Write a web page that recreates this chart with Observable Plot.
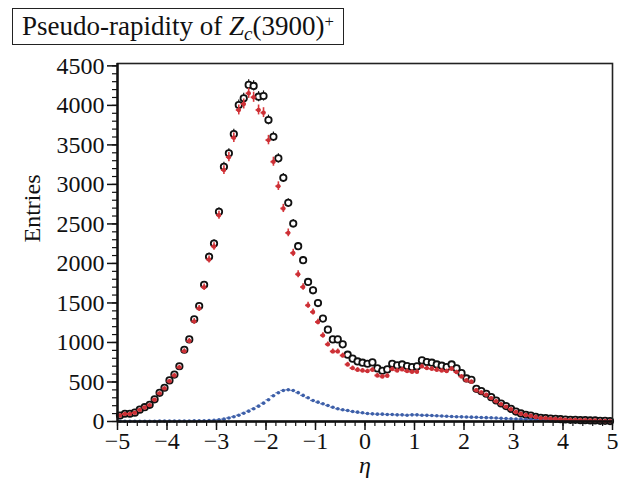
<!DOCTYPE html>
<html>
<head>
<meta charset="utf-8">
<script src="https://cdn.jsdelivr.net/npm/d3@7"></script>
<script src="https://cdn.jsdelivr.net/npm/@observablehq/plot@0.6"></script>
<style>
  html, body { margin: 0; padding: 0; background: #fff; }
  #wrap { position: relative; width: 623px; height: 484px; font-family: "Liberation Serif", "DejaVu Serif", serif; }
  #title { position: absolute; left: 12px; top: 8px; height: 35px; padding: 0 9px; border: 1.5px solid #222;
           font-size: 27px; line-height: 35px; color: #111; white-space: nowrap; background: #fff; z-index: 2; }
  #title sub { font-size: 0.7em; vertical-align: -0.25em; line-height: 0; }
  #title sup { font-size: 0.62em; vertical-align: 0.5em; line-height: 0; }
</style>
</head>
<body>
<div id="wrap">
  <div id="title">Pseudo-rapidity of <i>Z</i><sub><i>c</i></sub>(3900)<sup>+</sup></div>
  <div id="chart"></div>
</div>
<script>
// bin centres: -4.95 ... 4.95 (width 0.1)
const etaCenters = d3.range(100).map(i => -4.95 + i * 0.1);

const blackValues = [
  76, 98, 98, 112, 150, 181, 211, 281, 363, 427,
  520, 594, 699, 908, 1039, 1293, 1460, 1730, 2085, 2252,
  2653, 3223, 3393, 3637, 4005, 4090, 4259, 4246, 4110, 4119,
  3815, 3603, 3330, 3084, 2767, 2505, 2218, 2041, 1766, 1660,
  1499, 1302, 1162, 1039, 1039, 976, 845, 795, 760, 744,
  731, 748, 672, 642, 659, 731, 710, 722, 701, 688,
  697, 773, 752, 744, 722, 706, 688, 722, 672, 612,
  545, 528, 414, 384, 351, 308, 266, 228, 195, 161,
  125, 102, 85, 75, 58, 47, 43, 38, 34, 30,
  25, 21, 21, 17, 17, 13, 13, 8, 8, 6
];

const redValues = [
  75, 96, 96, 110, 147, 178, 207, 276, 356, 419,
  510, 582, 685, 890, 1018, 1267, 1431, 1700, 2050, 2215,
  2610, 3181, 3345, 3590, 3942, 4018, 4153, 4103, 3942, 3908,
  3561, 3287, 2978, 2696, 2387, 2133, 1863, 1702, 1470, 1386,
  1259, 1090, 976, 887, 887, 836, 722, 676, 655, 646,
  638, 655, 583, 570, 579, 663, 646, 659, 638, 630,
  630, 697, 676, 668, 655, 646, 638, 668, 625, 570,
  520, 503, 395, 368, 338, 296, 256, 220, 188, 155,
  120, 98, 82, 72, 56, 45, 41, 36, 32, 28,
  24, 20, 20, 16, 16, 12, 12, 8, 7, 5
];

const blueValues = [
  3, 3, 3, 3, 4, 4, 4, 4, 5, 5,
  5, 5, 6, 6, 7, 8, 9, 10, 12, 15,
  22, 30, 45, 60, 80, 105, 131, 161, 194, 232,
  275, 326, 364, 393, 402, 393, 365, 330, 300, 266,
  245, 224, 203, 181, 161, 148, 140, 127, 118, 110,
  101, 97, 93, 93, 89, 89, 84, 84, 80, 84,
  84, 80, 78, 76, 72, 70, 66, 63, 61, 59,
  57, 55, 53, 51, 49, 47, 44, 40, 37, 34,
  32, 30, 27, 25, 24, 23, 22, 21, 21, 19,
  18, 17, 16, 15, 14, 13, 12, 10, 8, 6
];

const xMajorTicks = d3.range(-5, 6, 1);
const xMinorTicks = d3.range(0, 51).map(i => -5 + i * 0.2);
const yMajorTicks = d3.range(0, 4501, 500);
const yMinorTicks = d3.range(0, 4501, 100);

const mk = vals => etaCenters.map((eta, i) => ({eta, v: vals[i]}));
const black = mk(blackValues);
const red = mk(redValues);
const blue = mk(blueValues);

const halfBin = 0.05;
const vErr = (data, color, w) => Plot.ruleX(data, {x: "eta", y1: d => Math.max(0, d.v - Math.sqrt(d.v)), y2: d => d.v + Math.sqrt(d.v), stroke: color, strokeWidth: w});
const hErr = (data, color, w) => Plot.ruleY(data, {y: "v", x1: d => d.eta - halfBin, x2: d => d.eta + halfBin, stroke: color, strokeWidth: w});

const chart = Plot.plot({
  width: 623,
  height: 484,
  marginLeft: 117,
  marginRight: 11,
  marginTop: 63,
  marginBottom: 63,
  style: {fontFamily: "Liberation Serif, serif", fontSize: "24px", color: "#111", background: "transparent"},
  x: {domain: [-5, 5], axis: null},
  y: {domain: [0, 4530], axis: null},
  marks: [
    // black series (open circles, white interior)
    vErr(black, "#111", 1.2),
    Plot.dot(black, {x: "eta", y: "v", r: 3.2, fill: "white", stroke: "#111", strokeWidth: 1.8}),
    // blue series
    hErr(blue, "#6580c0", 1.2),
    Plot.dot(blue, {x: "eta", y: "v", r: 1.8, fill: "#3d5fa8", stroke: "none"}),
    // red series (crosses)
    vErr(red, "#d8373b", 1.6),
    hErr(red, "#d8373b", 1.8),
    Plot.dot(red, {x: "eta", y: "v", r: 2.2, fill: "#cc3036", stroke: "none"}),
    // axes
    Plot.axisX({ticks: xMinorTicks, tickSize: 5, text: null, label: null, strokeWidth: 1.2}),
    Plot.axisX({ticks: xMajorTicks, tickSize: 9, tickPadding: 1, fontSize: 24, label: null, strokeWidth: 1.5, tickFormat: d => d < 0 ? "\u2212" + Math.abs(d) : String(d)}),
    Plot.axisY({ticks: yMinorTicks, tickSize: 5, text: null, label: null, strokeWidth: 1.2}),
    Plot.axisY({ticks: yMajorTicks, tickSize: 10, tickPadding: 3, fontSize: 24, label: null, strokeWidth: 1.5, tickFormat: d => String(d)}),
    Plot.frame({stroke: "#222", strokeWidth: 1.6}),
    Plot.ruleX([-5], {stroke: "#111", strokeWidth: 2.4}),
    Plot.ruleY([0], {stroke: "#111", strokeWidth: 2.4}),
    Plot.text(["Entries"], {frameAnchor: "left", dx: -85, rotate: -90, fontSize: 24, fill: "#111"}),
    Plot.text(["\u03B7"], {frameAnchor: "bottom", dy: 51, fontSize: 24, fontStyle: "italic", fill: "#111"})
  ]
});
document.getElementById("chart").appendChild(chart);
</script>
</body>
</html>
